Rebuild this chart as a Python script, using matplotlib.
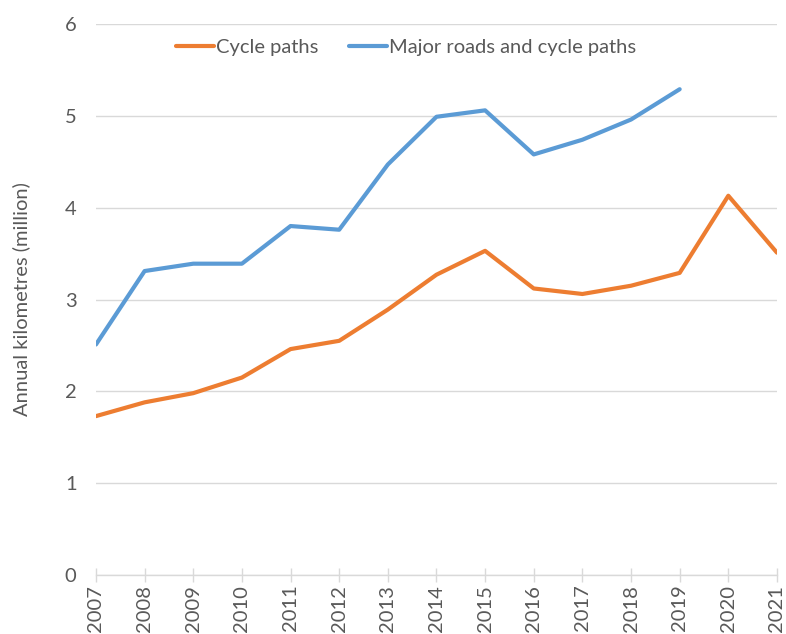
import matplotlib.pyplot as plt

years = [str(y) for y in range(2007, 2022)]
cycle_paths = [1.73, 1.88, 1.98, 2.15, 2.46, 2.55, 2.89, 3.27, 3.53, 3.12, 3.06, 3.15, 3.29, 4.13, 3.51]
major_roads = [2.51, 3.31, 3.39, 3.39, 3.80, 3.76, 4.47, 4.99, 5.06, 4.58, 4.74, 4.96, 5.29]

plt.rcParams['font.family'] = ['Lato', 'DejaVu Sans']
text_col = '#595959'
grid_col = '#d9d9d9'
fs = 14.5

fig = plt.figure(figsize=(7.86, 6.34), dpi=100)
ax = fig.add_axes([0.1221, 0.0931, 0.8664, 0.869])

x = list(range(len(years)))
ax.plot(x, cycle_paths, color='#ED7D31', lw=3, label='Cycle paths', solid_capstyle='round')
ax.plot(x[:len(major_roads)], major_roads, color='#5B9BD5', lw=3,
        label='Major roads and cycle paths', solid_capstyle='round')

ax.set_xlim(0, len(years) - 1)
ax.set_ylim(0, 6)
ax.set_yticks(range(0, 7))
ax.set_xticks(x)
ax.set_xticklabels(years, rotation=90)
ax.tick_params(axis='x', colors=grid_col, direction='inout', length=10, width=1,
               labelcolor=text_col, labelsize=fs, pad=2)
ax.tick_params(axis='y', length=0, labelcolor=text_col, labelsize=fs, pad=14)
ax.grid(axis='y', color=grid_col, lw=1)
ax.set_axisbelow(True)
for s in ['top', 'right', 'left']:
    ax.spines[s].set_visible(False)
ax.spines['bottom'].set_color(grid_col)
ax.spines['bottom'].set_linewidth(1)
ax.set_ylabel('Annual kilometres (million)', color=text_col, fontsize=fs, labelpad=25)

ax.legend(loc='center', bbox_to_anchor=(0.455, 0.958), ncol=2, frameon=False,
          fontsize=fs, labelcolor=text_col, handlelength=1.9, handletextpad=0.1,
          columnspacing=1.5)

fig.savefig('out.png', dpi=100)
